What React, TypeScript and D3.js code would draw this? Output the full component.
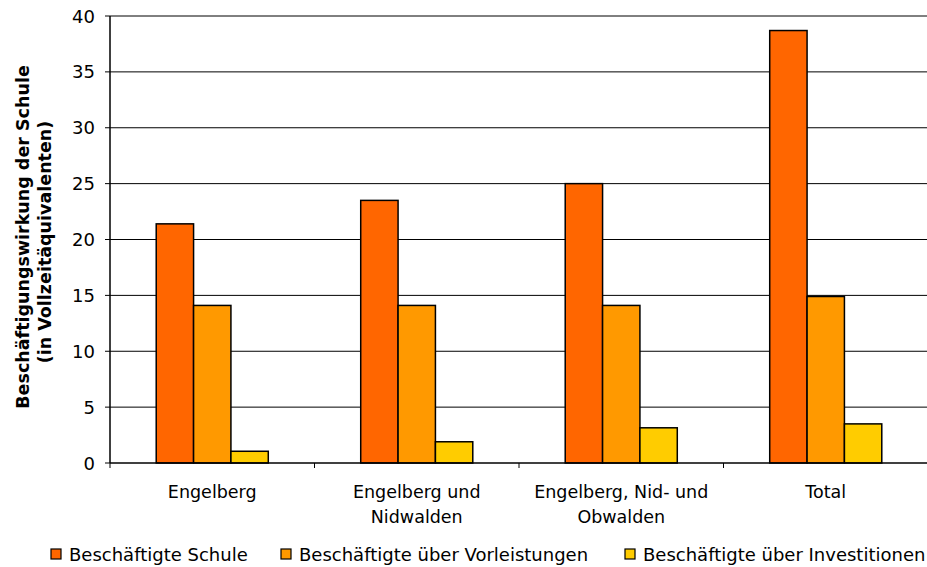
import React from "react";
import * as d3 from "d3";

const categories: string[][] = [
  ["Engelberg"],
  ["Engelberg und", "Nidwalden"],
  ["Engelberg, Nid- und", "Obwalden"],
  ["Total"],
];
const seriesNames = [
  "Beschäftigte Schule",
  "Beschäftigte über Vorleistungen",
  "Beschäftigte über Investitionen",
];
const schule = [21.4, 23.5, 25.0, 38.7];
const vorleistungen = [14.1, 14.1, 14.1, 14.9];
const investitionen = [1.05, 1.9, 3.15, 3.5];
const colors = ["#FF6600", "#FF9900", "#FFCC00"];
const yTicks = [0, 5, 10, 15, 20, 25, 30, 35, 40];

const W = 927;
const H = 567;
const left = 110;
const right = 928;
const top = 16;
const bottom = 463;
const font = "'DejaVu Sans', Verdana, sans-serif";
const fs = 17.5;

export default function App() {
  const series = [schule, vorleistungen, investitionen];
  const catKeys = categories.map((c) => c.join(" "));
  const x0 = d3.scaleBand<string>().domain(catKeys).range([left, right]);
  const groupW = x0.bandwidth() * 0.548;
  const x1 = d3
    .scaleBand<number>()
    .domain([0, 1, 2])
    .range([0, groupW]);
  const y = d3.scaleLinear().domain([0, 40]).range([bottom, top]);

  const legendX = [51, 281, 625];

  return (
    <svg
      width={W}
      height={H}
      style={{ position: "absolute", left: 0, top: 0, background: "#fff" }}
      fontFamily={font}
    >
      {yTicks.map((t) => (
        <g key={t}>
          {t > 0 && (
            <line x1={left} x2={right} y1={y(t)} y2={y(t)} stroke="#000" strokeWidth={1} />
          )}
          <line x1={left - 5} x2={left} y1={y(t)} y2={y(t)} stroke="#000" strokeWidth={1} />
          <text
            x={95}
            y={y(t)}
            textAnchor="end"
            dominantBaseline="central"
            fontSize={18}
          >
            {t}
          </text>
        </g>
      ))}
      {catKeys.map((k, i) =>
        series.map((s, j) => {
          const bx = (x0(k) as number) + (x0.bandwidth() - groupW) / 2 + (x1(j) as number);
          return (
            <rect
              key={k + j}
              x={bx}
              y={y(s[i])}
              width={x1.bandwidth()}
              height={bottom - y(s[i])}
              fill={colors[j]}
              stroke="#000"
              strokeWidth={1.5}
            />
          );
        })
      )}
      <line x1={left} x2={left} y1={top} y2={bottom} stroke="#000" strokeWidth={1.5} />
      <line x1={left} x2={right} y1={bottom} y2={bottom} stroke="#000" strokeWidth={1.5} />
      {[...catKeys.map((k) => x0(k) as number), right].map((xv, i) => (
        <line key={i} x1={xv} x2={xv} y1={bottom} y2={bottom + 5} stroke="#000" strokeWidth={1} />
      ))}
      {categories.map((lines, i) => (
        <text
          key={i}
          x={(x0(catKeys[i]) as number) + x0.bandwidth() / 2}
          y={498}
          textAnchor="middle"
          fontSize={fs}
        >
          {lines.map((l, li) => (
            <tspan key={li} x={(x0(catKeys[i]) as number) + x0.bandwidth() / 2} dy={li === 0 ? 0 : 25}>
              {l}
            </tspan>
          ))}
        </text>
      ))}
      <g transform="translate(0,237) rotate(-90)">
        <text x={0} y={29} textAnchor="middle" fontSize={fs} fontWeight="bold">
          Beschäftigungswirkung der Schule
        </text>
        <text x={-5} y={51} textAnchor="middle" fontSize={fs} fontWeight="bold">
          (in Vollzeitäquivalenten)
        </text>
      </g>
      {seriesNames.map((n, i) => (
        <g key={n}>
          <rect x={legendX[i]} y={549} width={10} height={10} fill={colors[i]} stroke="#000" strokeWidth={1.2} />
          <text x={legendX[i] + 18} y={554} dominantBaseline="central" fontSize={18}>
            {n}
          </text>
        </g>
      ))}
    </svg>
  );
}
